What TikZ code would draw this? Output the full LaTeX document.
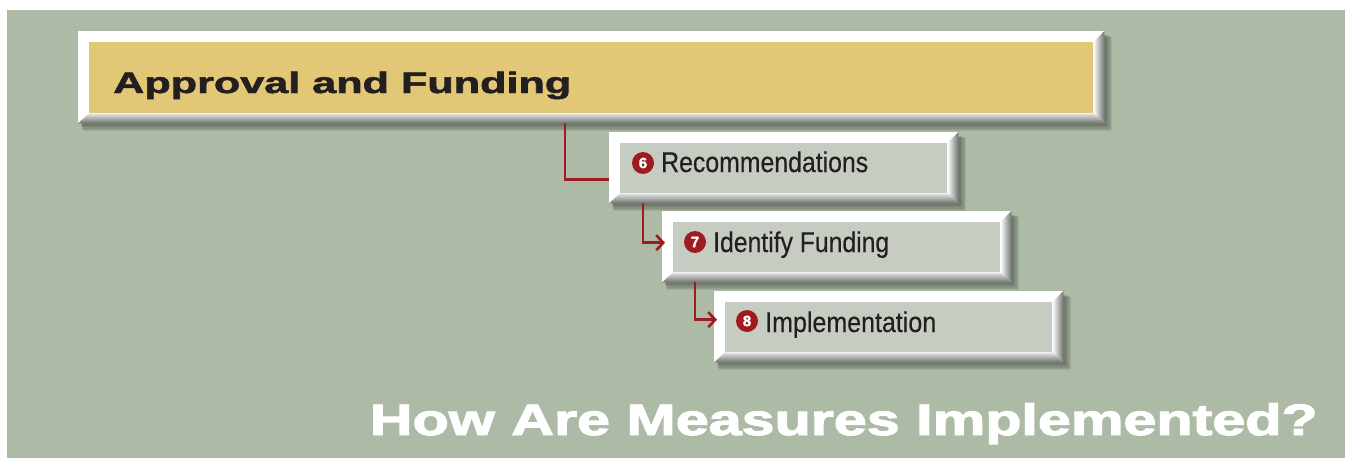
\documentclass[tikz,border=0pt]{standalone}
\usepackage{fontspec}
\usepackage{graphicx}
\setmainfont{Liberation Sans}
\newfontfamily\heavyfont{Liberation Sans Bold}[FakeBold=1.6]
\newfontfamily\heavierfont{Liberation Sans Bold}[FakeBold=2.2]
\newfontfamily\condfont{Liberation Sans}[FakeBold=0.4]
\usetikzlibrary{calc,arrows.meta}
\definecolor{bg}{HTML}{ADBBA6}
\definecolor{gold}{HTML}{E2C776}
\definecolor{pane}{HTML}{C7CCC3}
\definecolor{bevdark}{HTML}{6F7470}
\definecolor{conred}{HTML}{9E1B20}
\definecolor{ink}{HTML}{231F20}
\newcommand\fitw[2]{\resizebox{#1}{\height}{#2}}
\newcommand\bevelize[2]{%
  \foreach \k in {1,2,3,4,5}{
    \fill[black,opacity=0.08] ($(#1.north west)+(2+\k*0.5,3+\k*0.5)$) rectangle ($(#1.south east)+(1+\k*1.4,1+\k*1.4)$);
  }
  \fill[white] (#1.north west) rectangle (#1.south east);
  \shade[left color=white, right color=bevdark] ($(#1.north east)+(-11,11)$) -- (#1.north east) -- (#1.south east) -- ($(#1.south east)+(-11,-10)$) -- cycle;
  \shade[top color=white!90!black, bottom color=bevdark] ($(#1.south west)+(11,-10)$) -- ($(#1.south east)+(-11,-10)$) -- (#1.south east) -- (#1.south west) -- cycle;
  \fill[#2] ($(#1.north west)+(11,11)$) rectangle ($(#1.south east)+(-11,-10)$);
}
\tikzset{
  boxframe/.style={draw=none, inner sep=0pt, anchor=north west, minimum width=#1},
  smallbox/.style={boxframe=349pt, minimum height=71pt},
  numc/.style={circle, fill=conred, inner sep=0pt, minimum size=22pt, text=white, font=\heavyfont\fontsize{15}{15}\selectfont},
  lbl/.style={anchor=base west, inner sep=0pt, text=ink, font=\condfont\fontsize{28.5}{29}\selectfont},
  conn/.style={draw=conred, line width=2.8pt},
  arr/.style={conn, -{Straight Barb[length=7pt,width=15pt,line width=2.6pt]}}
}
\begin{document}
\begin{tikzpicture}[x=1pt,y=-1pt]
\useasboundingbox (0,0) rectangle (1345,458);
\fill[white] (0,0) rectangle (1345,458);
\fill[bg] (7,10) rectangle (1345,458);

% top box
\node[boxframe=1026pt, minimum height=92pt] (top) at (78,31) {};
\bevelize{top}{gold}
\node[anchor=base west, inner sep=0pt, text=ink, font=\heavyfont\fontsize{29.5}{30}\selectfont] (ttop) at (113,93) {\fitw{458pt}{Approval and Funding}};

% step boxes
\node[smallbox] (b6) at (609,132) {};
\bevelize{b6}{pane}
\node[smallbox] (b7) at (662,211) {};
\bevelize{b7}{pane}
\node[smallbox] (b8) at (714,291) {};
\bevelize{b8}{pane}

\node[numc] (c6) at (643,163) {6};
\node[lbl] (t6) at (661,172) {\fitw{207pt}{Recommendations}};
\node[numc] (c7) at (695,242) {7};
\node[lbl] (t7) at (713,252) {\fitw{176pt}{Identify Funding}};
\node[numc] (c8) at (747,321) {8};
\node[lbl] (t8) at (765,332) {\fitw{171pt}{Implementation}};

% connectors
\coordinate (s1) at ($(top.south west)+(487,0)$);
\draw[conn] (s1) |- ($(b6.west)+(0,12)$);
\draw[arr] (c6 |- b6.south) |- ($(b7.west)+(3,-4)$);
\draw[arr] (c7 |- b7.south) |- ($(b8.west)+(3,-7)$);

% caption
\node[anchor=base east, inner sep=0pt, text=white, font=\heavierfont\fontsize{44}{45}\selectfont] (cap) at (1318,435) {\fitw{948pt}{How Are Measures Implemented?}};
\end{tikzpicture}
\end{document}
